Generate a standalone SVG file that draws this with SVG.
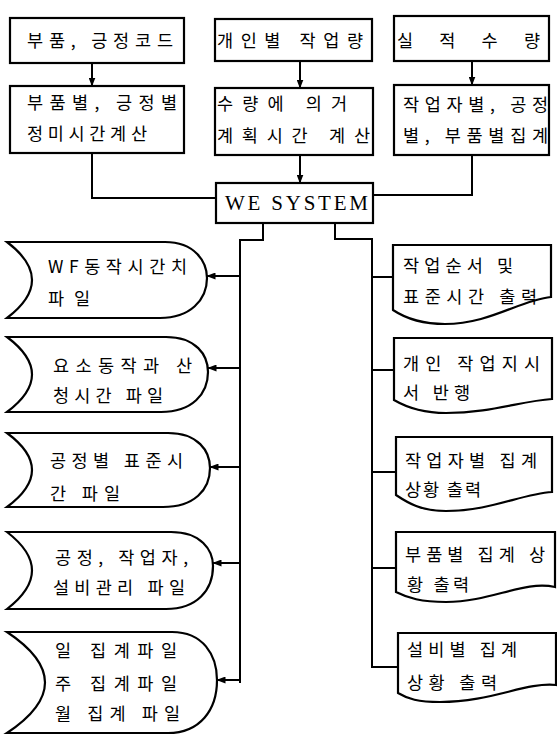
<svg xmlns="http://www.w3.org/2000/svg" width="557" height="735" viewBox="0 0 557 735">
<style>
.box{fill:#fff;stroke:#000;stroke-width:2.2}
.ln{fill:none;stroke:#000;stroke-width:2}
.t{font-family:"Noto Sans CJK KR","Noto Sans",sans-serif;font-size:17.5px;fill:#000}
.s{font-family:"Liberation Serif",serif;font-size:21px;fill:#000}
</style>
<defs>
<marker id="ah" markerWidth="9" markerHeight="7" refX="8.5" refY="3.5" orient="auto" markerUnits="userSpaceOnUse">
<path d="M0,0 L9,3.5 L0,7 Z" fill="#000"/>
</marker>
</defs>
<rect width="557" height="735" fill="#fff"/>
<g id="connectors">
<path class="ln" d="M92,63 V86" marker-end="url(#ah)"/>
<path class="ln" d="M300,61 V88" marker-end="url(#ah)"/>
<path class="ln" d="M472,61 V85" marker-end="url(#ah)"/>
<path class="ln" d="M92,153 V198 H216"/>
<path class="ln" d="M300,155 V183" marker-end="url(#ah)"/>
<path class="ln" d="M472,155 V195 H373"/>
<path class="ln" d="M263,223 V240 H240 V683"/>
<path class="ln" d="M240,276 H207" marker-end="url(#ah)"/>
<path class="ln" d="M240,368 H208" marker-end="url(#ah)"/>
<path class="ln" d="M240,467 H210" marker-end="url(#ah)"/>
<path class="ln" d="M240,563 H213" marker-end="url(#ah)"/>
<path class="ln" d="M240,680 H217" marker-end="url(#ah)"/>
<path class="ln" d="M335,223 V239 H372 V668"/>
<path class="ln" d="M372,277 H393"/>
<path class="ln" d="M372,370 H394"/>
<path class="ln" d="M372,472 H396"/>
<path class="ln" d="M372,568 H396"/>
<path class="ln" d="M372,667 H398"/>
</g>
<g id="box1">
<rect class="box" x="10" y="18" width="174" height="45"/>
<text class="t" x="27" y="47" textLength="146" lengthAdjust="spacing">부품, 긍정코드</text>
</g>
<g id="box2">
<rect class="box" x="215" y="19" width="157" height="42"/>
<text class="t" x="217" y="47" textLength="146" lengthAdjust="spacing">개인별  작업량</text>
</g>
<g id="box3">
<rect class="box" x="394" y="16" width="155" height="45"/>
<text class="t" x="397" y="47" textLength="143" lengthAdjust="spacing">실 적 수 량</text>
</g>
<g id="box4">
<rect class="box" x="10" y="86" width="174" height="67"/>
<text class="t" x="27" y="109" textLength="150" lengthAdjust="spacing">부품별, 긍정별</text>
<text class="t" x="27" y="140" textLength="120" lengthAdjust="spacing">정미시간계산</text>
</g>
<g id="box5">
<rect class="box" x="215" y="88" width="158" height="67"/>
<text class="t" x="217" y="110" textLength="130" lengthAdjust="spacing">수량에  의거</text>
<text class="t" x="217" y="142" textLength="153" lengthAdjust="spacing">계획시간  계산</text>
</g>
<g id="box6">
<rect class="box" x="394" y="85" width="155" height="70"/>
<text class="t" x="403" y="111" textLength="145" lengthAdjust="spacing">작업자별, 공정</text>
<text class="t" x="403" y="142" textLength="145" lengthAdjust="spacing">별, 부품별집계</text>
</g>
<g id="we-system">
<rect class="box" x="216" y="183" width="157" height="40"/>
<text class="s" x="225" y="210" textLength="143" lengthAdjust="spacing">WE SYSTEM</text>
</g>
<g id="file1">
<path class="box" d="M7,242 H165 C195,242 207,262 207,278 C207,300 190,318 160,318 H7 Q57,280 7,242 Z"/>
<text class="t" x="48" y="273" textLength="139" lengthAdjust="spacing">WF동작시간치</text>
<text class="t" x="48" y="305" textLength="42" lengthAdjust="spacing">파일</text>
</g>
<g id="file2">
<path class="box" d="M7,337 H166 C196,337 208,355 208,372 C208,394 192,412 161,412 H7 Q57,374.5 7,337 Z"/>
<text class="t" x="53" y="372" textLength="139" lengthAdjust="spacing">요소동작과 산</text>
<text class="t" x="53" y="402" textLength="110" lengthAdjust="spacing">청시간 파일</text>
</g>
<g id="file3">
<path class="box" d="M7,433 H168 C198,433 210,451 210,468 C210,490 194,507 163,507 H7 Q57,470 7,433 Z"/>
<text class="t" x="50" y="467" textLength="133" lengthAdjust="spacing">공정별 표준시</text>
<text class="t" x="50" y="500" textLength="70" lengthAdjust="spacing">간 파일</text>
</g>
<g id="file4">
<path class="box" d="M7,532 H171 C201,532 213,550 213,566 C213,590 197,609 166,609 H7 Q57,570.5 7,532 Z"/>
<text class="t" x="55" y="564" textLength="133" lengthAdjust="spacing">공정, 작업자,</text>
<text class="t" x="53" y="594" textLength="132" lengthAdjust="spacing">설비관리 파일</text>
</g>
<g id="file5">
<path class="box" d="M7,632 H172 C203,632 217,655 217,680 C217,710 200,733 168,733 H7 Q83,682.5 7,632 Z"/>
<text class="t" x="55" y="657" textLength="122" lengthAdjust="spacing">일  집계파일</text>
<text class="t" x="55" y="690" textLength="122" lengthAdjust="spacing">주  집계파일</text>
<text class="t" x="55" y="720" textLength="125" lengthAdjust="spacing">월 집계 파일</text>
</g>
<g id="doc1">
<path class="box" d="M393,245 H551 V297 C520,300 490,324 445,324 C420,324 405,318 393,310 Z"/>
<text class="t" x="403" y="272" textLength="110" lengthAdjust="spacing">작업순서 및</text>
<text class="t" x="403" y="303" textLength="134" lengthAdjust="spacing">표준시간 출력</text>
</g>
<g id="doc2">
<path class="box" d="M394,338 H552 V399 C521,401 491,413 446,413 C421,413 406,407 394,400 Z"/>
<text class="t" x="403" y="370" textLength="137" lengthAdjust="spacing">개인 작업지시</text>
<text class="t" x="403" y="399" textLength="67" lengthAdjust="spacing">서 반행</text>
</g>
<g id="doc3">
<path class="box" d="M396,437 H552 V492 C521,494 491,511 446,511 C421,511 408,503 396,495 Z"/>
<text class="t" x="405" y="467" textLength="132" lengthAdjust="spacing">작업자별 집계</text>
<text class="t" x="405" y="496" textLength="76" lengthAdjust="spacing">상황 출력</text>
</g>
<g id="doc4">
<path class="box" d="M396,532 H555 V587 C524,580 491,602 446,602 C421,602 408,598 396,592 Z"/>
<text class="t" x="405" y="561" textLength="140" lengthAdjust="spacing">부품별 집계 상</text>
<text class="t" x="407" y="591" textLength="62" lengthAdjust="spacing">황 출력</text>
</g>
<g id="doc5">
<path class="box" d="M398,633 H556 V685 C525,682 492,702 440,702 C418,702 408,699 398,693 Z"/>
<text class="t" x="407" y="656" textLength="110" lengthAdjust="spacing">설비별 집계</text>
<text class="t" x="407" y="689" textLength="90" lengthAdjust="spacing">상황 출력</text>
</g>
</svg>
